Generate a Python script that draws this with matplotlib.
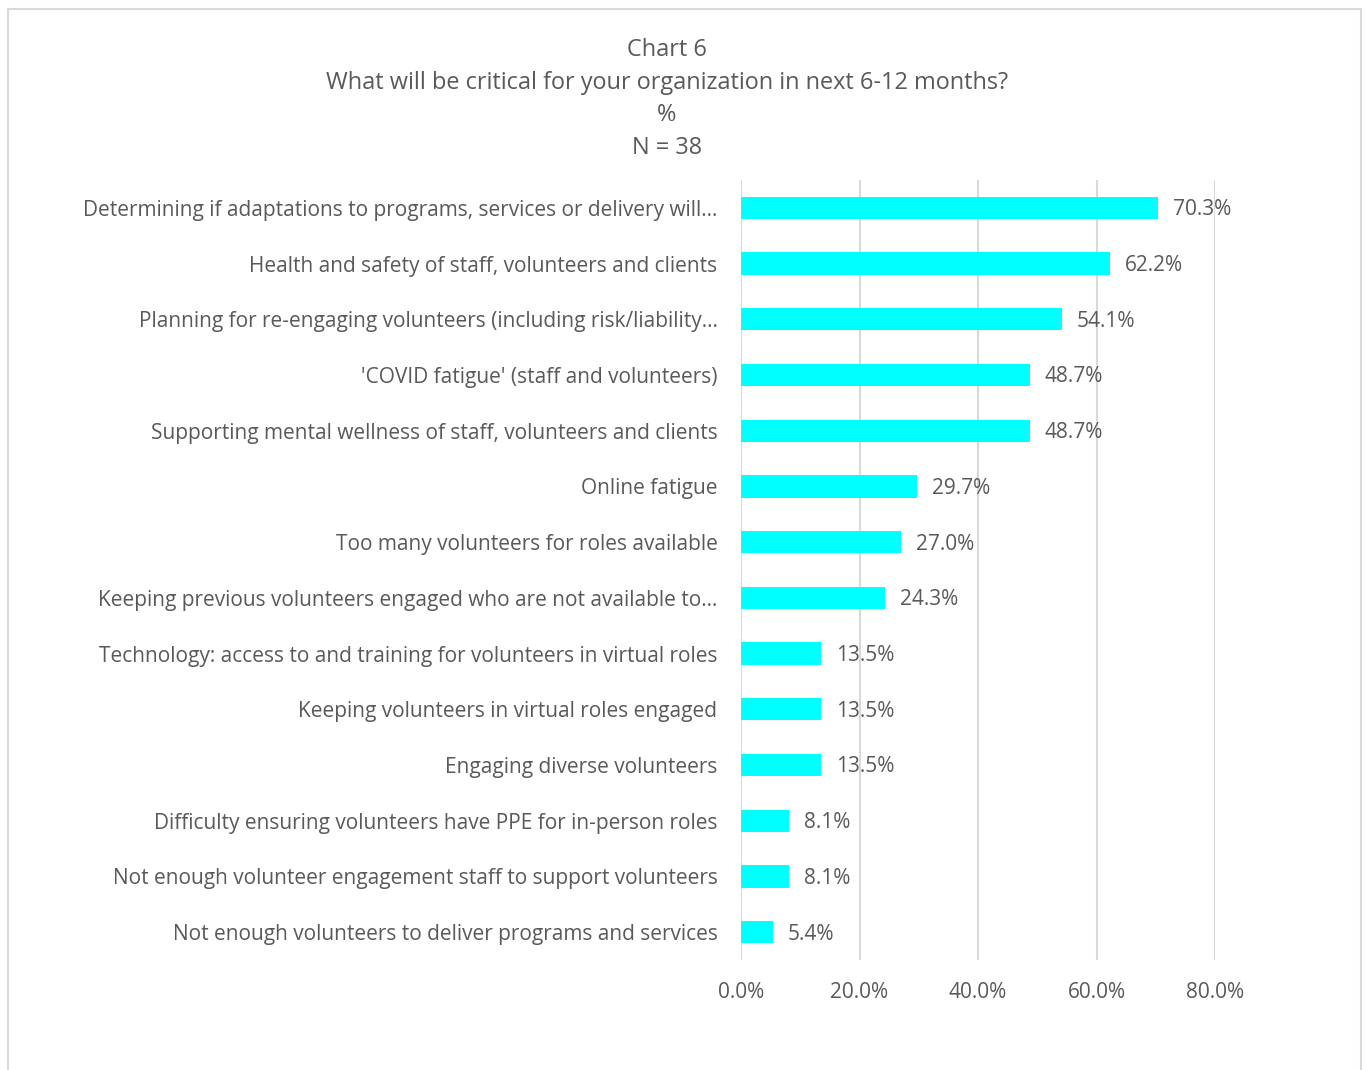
import matplotlib
matplotlib.use("Agg")
import matplotlib.pyplot as plt
from matplotlib.patches import Rectangle
from matplotlib.ticker import FuncFormatter

categories = [
    "Determining if adaptations to programs, services or delivery will\u2026",
    "Health and safety of staff, volunteers and clients",
    "Planning for re-engaging volunteers (including risk/liability\u2026",
    "'COVID fatigue' (staff and volunteers)",
    "Supporting mental wellness of staff, volunteers and clients",
    "Online fatigue",
    "Too many volunteers for roles available",
    "Keeping previous volunteers engaged who are not available to\u2026",
    "Technology: access to and training for volunteers in virtual roles",
    "Keeping volunteers in virtual roles engaged",
    "Engaging diverse volunteers",
    "Difficulty ensuring volunteers have PPE for in-person roles",
    "Not enough volunteer engagement staff to support volunteers",
    "Not enough volunteers to deliver programs and services",
]
values = [70.3, 62.2, 54.1, 48.7, 48.7, 29.7, 27.0, 24.3, 13.5, 13.5, 13.5, 8.1, 8.1, 5.4]
x_ticks = [0, 20, 40, 60, 80]
title_lines = ["Chart 6", "What will be critical for your organization in next 6-12 months?", "%", "N = 38"]

TEXT = "#595959"
GRID = "#d9d9d9"
plt.rcParams["font.family"] = ["Open Sans", "DejaVu Sans"]

W, H = 1366, 1070
fig = plt.figure(figsize=(W / 100, H / 100), dpi=100)

# outer chart border
fig.patches.append(Rectangle((8 / W, -0.01), (1361 - 8) / W, 1 - 9 / H + 0.01,
                             transform=fig.transFigure, fill=False,
                             edgecolor=GRID, linewidth=1.5))

ax = fig.add_axes([741 / W, 1 - 960 / H, (1215 - 741) / W, (960 - 180) / H])
ypos = list(range(len(categories)))
ax.barh(ypos, values, height=0.4, color="#00FFFF", zorder=3)
ax.set_ylim(len(categories) - 0.5, -0.5)
ax.set_xlim(0, 80)
ax.set_xticks(x_ticks)
ax.xaxis.set_major_formatter(FuncFormatter(lambda v, p: f"{v:.1f}%"))
ax.set_yticks(ypos)
ax.set_yticklabels(categories)
ax.tick_params(axis="y", length=0, pad=17, labelsize=15, labelcolor=TEXT)
ax.tick_params(axis="x", length=0, pad=16, labelsize=15, labelcolor=TEXT)
ax.grid(axis="x", color=GRID, linewidth=1.5, zorder=0)
ax.set_axisbelow(True)
for s in ax.spines.values():
    s.set_visible(False)

for y, v in zip(ypos, values):
    ax.annotate(f"{v:.1f}%", (v, y), xytext=(15, -2), textcoords="offset pixels",
                ha="left", va="center", fontsize=15, color=TEXT, zorder=4)

for i, line in enumerate(title_lines):
    fig.text(667 / W, 1 - (50 + 32.7 * i) / H, line, ha="center", va="center",
             fontsize=16.9, color=TEXT)

fig.savefig("out.png", dpi=100)
